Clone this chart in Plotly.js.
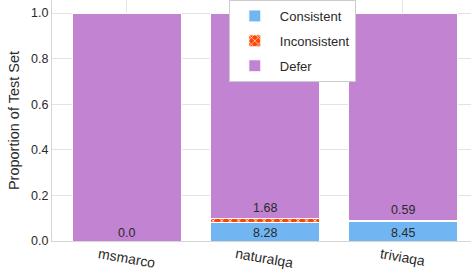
<!DOCTYPE html>
<html><head><meta charset="utf-8">
<script src="https://cdn.plot.ly/plotly-3.0.1.min.js"></script>
<style>html,body{margin:0;padding:0;background:#fff}#c{width:471px;height:279px}</style>
</head><body><div id="c"></div>
<script>
const categories = ["msmarco", "naturalqa", "triviaqa"];
const consistent = [0.0, 0.0828, 0.0845];
const inconsistent = [0.0, 0.0168, 0.0059];
const defer = categories.map((c, i) => 1 - consistent[i] - inconsistent[i]);
const consistentLabels = ["0.0", "8.28", "8.45"];
const inconsistentLabels = ["", "1.68", "0.59"];
const yTicks = [0, 0.2, 0.4, 0.6, 0.8, 1.0];

const font = "Liberation Sans, Arial, sans-serif";
const line = {color: "#ffffff", width: 1};
const traces = [
  {type: "bar", name: "Consistent", x: categories, y: consistent, legendgroup: "a",
   marker: {color: "#71b6f3", line: line}, width: 0.79},
  {type: "bar", name: "Inconsistent", x: categories, y: inconsistent, legendgroup: "b",
   marker: {color: "#ff4500", line: line, pattern: {shape: "x", fgcolor: "#ffffff", bgcolor: "#ff4500", size: 6, solidity: 0.25}}, width: 0.79},
  {type: "bar", name: "Defer", x: categories, y: defer, legendgroup: "c",
   marker: {color: "#c283d3", line: line}, width: 0.79}
];

const annotations = [];
categories.forEach((c, i) => {
  annotations.push({x: c, y: 0, text: consistentLabels[i], showarrow: false,
    yanchor: "bottom", yshift: -1, font: {family: font, size: 12.5, color: "#2a2a2a"}});
  if (inconsistentLabels[i]) {
    annotations.push({x: c, y: consistent[i] + inconsistent[i], text: inconsistentLabels[i], showarrow: false,
      yanchor: "bottom", yshift: 1, font: {family: font, size: 12.5, color: "#2a2a2a"}});
  }
  annotations.push({x: c, y: 0, yref: "paper", text: c, showarrow: false, textangle: 10,
    yanchor: "top", yshift: -2, font: {family: font, size: 14, color: "#2a2a2a"}});
});

const layout = {
  width: 471, height: 279,
  margin: {l: 52, r: 0, t: 0, b: 38},
  paper_bgcolor: "#fff", plot_bgcolor: "#fff",
  barmode: "stack", bargap: 0.2,
  font: {family: font, color: "#2a2a2a"},
  showlegend: true,
  legend: {x: 0.422, y: 1.0, xanchor: "left", yanchor: "top", bgcolor: "#fff",
    bordercolor: "#cccccc", borderwidth: 1, traceorder: "grouped", tracegroupgap: 5,
    itemwidth: 40,
    font: {family: font, size: 13, color: "#2a2a2a"}},
  xaxis: {range: [-0.54, 2.496], showgrid: true, gridcolor: "#e3e3e3", showline: true,
    linecolor: "#d6d6d6", ticks: "", showticklabels: false,
    zeroline: false, fixedrange: true},
  yaxis: {range: [0, 1.057], tickvals: yTicks, tickformat: ".1f", showgrid: true, gridcolor: "#e3e3e3",
    showline: true, linecolor: "#d6d6d6", ticks: "", zeroline: false,
    tickfont: {family: font, size: 12.5, color: "#2a2a2a"},
    title: {text: "Proportion of Test Set", font: {family: font, size: 14.5, color: "#2a2a2a"}, standoff: 8}},
  annotations: annotations
};
Plotly.newPlot("c", traces, layout, {displayModeBar: false, staticPlot: true});
</script></body></html>
